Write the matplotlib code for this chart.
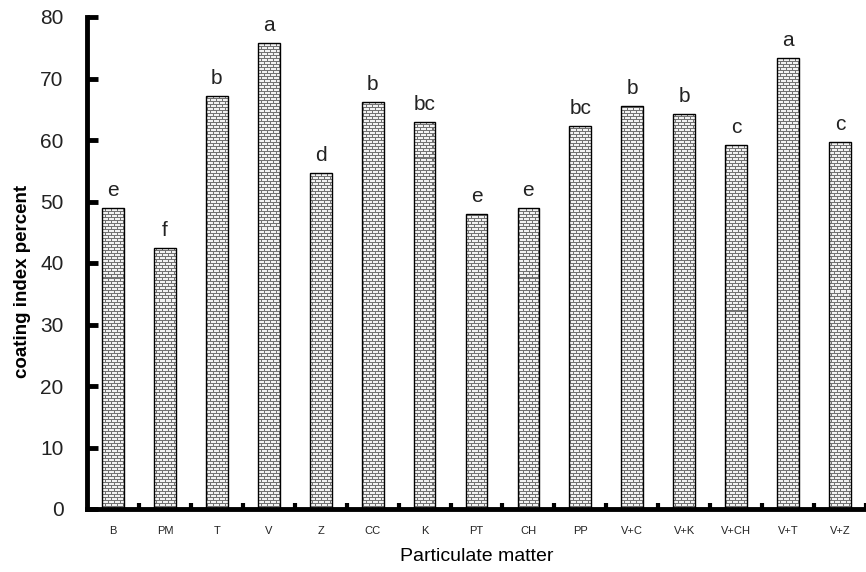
import matplotlib.pyplot as plt
import numpy as np

plt.rcParams['font.family'] = ['Liberation Sans', 'DejaVu Sans']

treatments = ['B', 'PM', 'T', 'V', 'Z', 'CC', 'K', 'PT', 'CH', 'PP',
              'V+C', 'V+K', 'V+CH', 'V+T', 'V+Z']
coating = [49.0, 42.5, 67.1, 75.8, 54.6, 66.1, 63.0, 47.9, 49.0, 62.2,
           65.5, 64.2, 59.2, 73.4, 59.7]
groups = ['e', 'f', 'b', 'a', 'd', 'b', 'bc', 'e', 'e', 'bc',
          'b', 'b', 'c', 'a', 'c']

W, H = 866, 572
# axes box in whole pixels so the texture maps 1:1 onto the screen
ax_px = (87, 63, 779, 492)
fig = plt.figure(figsize=(W / 100, H / 100), dpi=100)
ax = fig.add_axes([ax_px[0] / W, ax_px[1] / H, ax_px[2] / W, ax_px[3] / H])


def brick_texture(w, h, row=3, brick=6):
    # light bricks with grey mortar lines, every other row shifted half a brick
    yy, xx = np.mgrid[0:h, 0:w]
    band = yy // row
    mortar = (yy % row == 0) | (((xx + (band % 2) * (brick // 2)) % brick) == 0)
    img = np.where(mortar, 0.45, 0.95)
    return np.dstack([img, img, img])


tex = brick_texture(ax_px[2], ax_px[3])

x = np.arange(len(treatments))
bars = ax.bar(x, coating, width=0.42, facecolor='none', edgecolor='black',
              linewidth=1.0, zorder=3)
for b in bars:
    im = ax.imshow(tex, extent=(0, 1, 0, 1), transform=ax.transAxes,
                   aspect='auto', interpolation='nearest', zorder=2)
    im.set_clip_path(b)

for xi, v, g in zip(x, coating, groups):
    ax.text(xi, v + 1.3, g, ha='center', va='bottom', fontsize=15, color='#222222')

ax.set_xlim(-0.5, len(treatments) - 0.5)
ax.set_ylim(0, 80)
ax.set_yticks(np.arange(0, 81, 10))
ax.tick_params(axis='y', direction='in', length=8, width=3.5, labelsize=15, pad=17,
               labelcolor='#222222')

# category boundaries get the small x ticks, names sit between them
ax.set_xticks(np.arange(0.5, len(treatments), 1.0))
ax.set_xticklabels([])
ax.tick_params(axis='x', which='major', direction='in', length=4, width=3)
ax.set_xticks(x, minor=True)
ax.set_xticklabels(treatments, minor=True, fontsize=8)
ax.tick_params(axis='x', which='minor', length=0, pad=12, labelcolor='#222222')

for side in ['top', 'right']:
    ax.spines[side].set_visible(False)
for side in ['left', 'bottom']:
    ax.spines[side].set_linewidth(3.5)

ax.set_xlabel('Particulate matter', fontsize=14, labelpad=9)
ax.set_ylabel('coating index percent', fontsize=13.5, fontweight='bold')
ax.yaxis.set_label_coords(-0.072, 0.463)

fig.savefig('out.png', dpi=100)
